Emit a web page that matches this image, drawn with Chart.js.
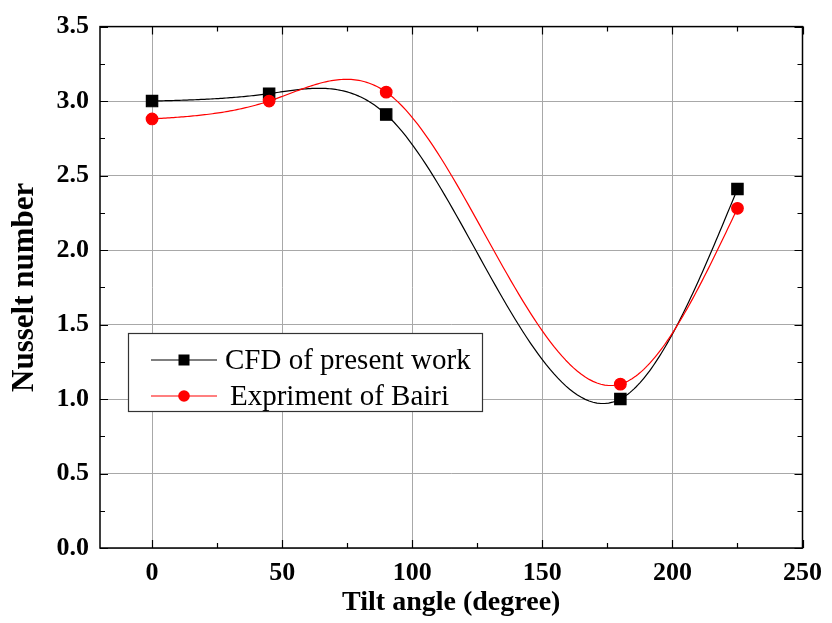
<!DOCTYPE html>
<html>
<head>
<meta charset="utf-8">
<script src="https://cdn.jsdelivr.net/npm/chart.js@4.4.1/dist/chart.umd.min.js"></script>
<style>
  html, body { margin: 0; padding: 0; background: #fff; }
  #wrap { width: 832px; height: 623px; }
</style>
</head>
<body>
<div id="wrap"><canvas id="nuChart" width="832" height="623"></canvas></div>
<script>
// Data
const tiltAngles = [0, 45, 90, 180, 225];
const cfdValues = [3.00, 3.05, 2.91, 1.00, 2.41];
const bairiValues = [2.88, 3.00, 3.06, 1.10, 2.28];
const xTicks = [0, 50, 100, 150, 200, 250];
const yTicks = [0.0, 0.5, 1.0, 1.5, 2.0, 2.5, 3.0, 3.5];
const seriesNames = ['CFD of present work', 'Expriment of Bairi'];

const serif = '"Liberation Serif", "Times New Roman", serif';

function toPoints(xs, ys) {
    return xs.map((x, i) => ({ x: x, y: ys[i] }));
}

// second derivatives of a natural cubic spline through (xs, ys)
function splineSecondDerivs(xs, ys) {
    const n = xs.length;
    const m = new Array(n).fill(0);
    const a = [], b = [], c = [], d = [];
    for (let i = 1; i < n - 1; i++) {
        const h0 = xs[i] - xs[i - 1], h1 = xs[i + 1] - xs[i];
        a.push(h0); b.push(2 * (h0 + h1)); c.push(h1);
        d.push(6 * ((ys[i + 1] - ys[i]) / h1 - (ys[i] - ys[i - 1]) / h0));
    }
    // Thomas algorithm
    const k = b.length;
    for (let i = 1; i < k; i++) {
        const w = a[i] / b[i - 1];
        b[i] -= w * c[i - 1];
        d[i] -= w * d[i - 1];
    }
    for (let i = k - 1; i >= 0; i--) {
        m[i + 1] = (d[i] - (i < k - 1 ? c[i] * m[i + 2] : 0)) / b[i];
    }
    return m;
}

// Smooth connecting line (Origin style spline), drawn through the chart scales
const splinePlugin = {
    id: 'spline',
    beforeDatasetsDraw(chart) {
        const { ctx, scales } = chart;
        const order = [0, 1];
        ctx.save();
        ctx.beginPath();
        ctx.rect(chart.chartArea.left, chart.chartArea.top,
                 chart.chartArea.right - chart.chartArea.left,
                 chart.chartArea.bottom - chart.chartArea.top);
        ctx.clip();
        order.forEach(idx => {
            const ds = chart.data.datasets[idx];
            const xs = ds.data.map(p => p.x);
            const ys = ds.data.map(p => p.y);
            const m = splineSecondDerivs(xs, ys);
            ctx.strokeStyle = ds.borderColor;
            ctx.lineWidth = ds.borderWidth;
            ctx.lineJoin = 'round';
            ctx.beginPath();
            for (let i = 0; i < xs.length - 1; i++) {
                const h = xs[i + 1] - xs[i];
                const steps = 60;
                for (let s = 0; s <= steps; s++) {
                    const t = xs[i] + h * s / steps;
                    const A = (xs[i + 1] - t) / h, B = (t - xs[i]) / h;
                    const v = A * ys[i] + B * ys[i + 1] +
                        ((A * A * A - A) * m[i] + (B * B * B - B) * m[i + 1]) * h * h / 6;
                    const px = scales.x.getPixelForValue(t);
                    const py = scales.y.getPixelForValue(v);
                    if (i === 0 && s === 0) ctx.moveTo(px, py); else ctx.lineTo(px, py);
                }
            }
            ctx.stroke();
        });
        ctx.restore();
    }
};

// Frame + inward ticks (major and minor)
const framePlugin = {
    id: 'frame',
    afterDatasetsDraw(chart) {
        const { ctx, chartArea: a, scales } = chart;
        const xs = scales.x, ys = scales.y;
        ctx.save();
        ctx.strokeStyle = '#000';
        ctx.lineWidth = 1.5;
        ctx.strokeRect(a.left, a.top, a.right - a.left, a.bottom - a.top);
        ctx.lineWidth = 1.2;
        ctx.beginPath();
        for (let v = -25; v <= 250; v += 25) {
            if (v < xs.min) continue;
            const px = Math.round(xs.getPixelForValue(v)) + 0.5;
            const len = (v % 50 === 0) ? 8 : 5;
            ctx.moveTo(px, a.bottom); ctx.lineTo(px, a.bottom - len);
            ctx.moveTo(px, a.top); ctx.lineTo(px, a.top + len);
        }
        for (let k = 0; k <= 14; k++) {
            const v = k * 0.25;
            const py = Math.round(ys.getPixelForValue(v)) + 0.5;
            const len = (k % 2 === 0) ? 8 : 5;
            ctx.moveTo(a.left, py); ctx.lineTo(a.left + len, py);
            ctx.moveTo(a.right, py); ctx.lineTo(a.right - len, py);
        }
        ctx.stroke();
        ctx.restore();
    }
};

// Legend box drawn inside the plot
const insideLegend = {
    id: 'insideLegend',
    afterDraw(chart) {
        const { ctx } = chart;
        const box = { x: 128, y: 333, w: 354, h: 78 };
        ctx.save();
        ctx.fillStyle = '#fff';
        ctx.fillRect(box.x, box.y, box.w, box.h);
        ctx.strokeStyle = '#333';
        ctx.lineWidth = 1.2;
        ctx.strokeRect(box.x + 0.5, box.y + 0.5, box.w, box.h);
        ctx.font = '29px ' + serif;
        ctx.textBaseline = 'middle';
        const rows = [360, 396];
        chart.data.datasets.forEach((ds, i) => {
            const yy = rows[i];
            ctx.strokeStyle = ds.borderColor;
            ctx.lineWidth = 1.2;
            ctx.beginPath();
            ctx.moveTo(151, yy); ctx.lineTo(217, yy);
            ctx.stroke();
            ctx.fillStyle = ds.pointBackgroundColor;
            if (ds.pointStyle === 'rect') {
                ctx.fillRect(184 - 5.5, yy - 5.5, 11, 11);
            } else {
                ctx.beginPath();
                ctx.arc(184, yy, 5.8, 0, Math.PI * 2);
                ctx.fill();
            }
            ctx.fillStyle = '#000';
            ctx.fillText(seriesNames[i], i === 0 ? 225 : 230, yy + 1);
        });
        ctx.restore();
    }
};

const chart = new Chart(document.getElementById('nuChart'), {
    type: 'line',
    data: {
        datasets: [
            {
                label: seriesNames[0],
                data: toPoints(tiltAngles, cfdValues),
                borderColor: '#000',
                backgroundColor: '#000',
                pointBackgroundColor: '#000',
                pointBorderColor: '#000',
                pointStyle: 'rect',
                pointRadius: 8,
                borderWidth: 1.2,
                showLine: false,
                order: 1
            },
            {
                label: seriesNames[1],
                data: toPoints(tiltAngles, bairiValues),
                borderColor: '#ff0000',
                backgroundColor: '#ff0000',
                pointBackgroundColor: '#ff0000',
                pointBorderColor: '#ff0000',
                pointStyle: 'circle',
                pointRadius: 5.8,
                borderWidth: 1.2,
                showLine: false,
                order: 0
            }
        ]
    },
    options: {
        responsive: false,
        animation: false,
        layout: { padding: { left: 0, right: 25, top: 23, bottom: 0 } },
        plugins: {
            legend: { display: false },
            tooltip: { enabled: false }
        },
        scales: {
            x: {
                type: 'linear',
                min: -20,
                max: 250,
                afterBuildTicks: (scale) => { scale.ticks = xTicks.map(v => ({ value: v })); },
                afterFit: (scale) => { scale.height = 75; },
                grid: { color: '#a8a8a8', lineWidth: 1, drawTicks: false },
                border: { display: false },
                ticks: {
                    color: '#000',
                    padding: 10,
                    maxRotation: 0,
                    font: { family: serif, size: 26, weight: 'bold' },
                    callback: (v) => String(v)
                },
                title: {
                    display: true,
                    text: 'Tilt angle (degree)',
                    color: '#000',
                    font: { family: serif, size: 28, weight: 'bold' },
                    padding: { top: 0, bottom: 3 }
                }
            },
            y: {
                type: 'linear',
                min: 0,
                max: 3.5,
                afterBuildTicks: (scale) => { scale.ticks = yTicks.map(v => ({ value: v })); },
                afterFit: (scale) => { scale.width = 100; },
                grid: { color: '#a8a8a8', lineWidth: 1, drawTicks: false },
                border: { display: false },
                ticks: {
                    color: '#000',
                    padding: 11,
                    font: { family: serif, size: 26, weight: 'bold' },
                    callback: (v) => Number(v).toFixed(1)
                },
                title: {
                    display: true,
                    text: 'Nusselt number',
                    color: '#000',
                    font: { family: serif, size: 31, weight: 'bold' },
                    padding: { top: 6, bottom: 0 }
                }
            }
        }
    },
    plugins: [splinePlugin, framePlugin, insideLegend]
});
</script>
</body>
</html>
